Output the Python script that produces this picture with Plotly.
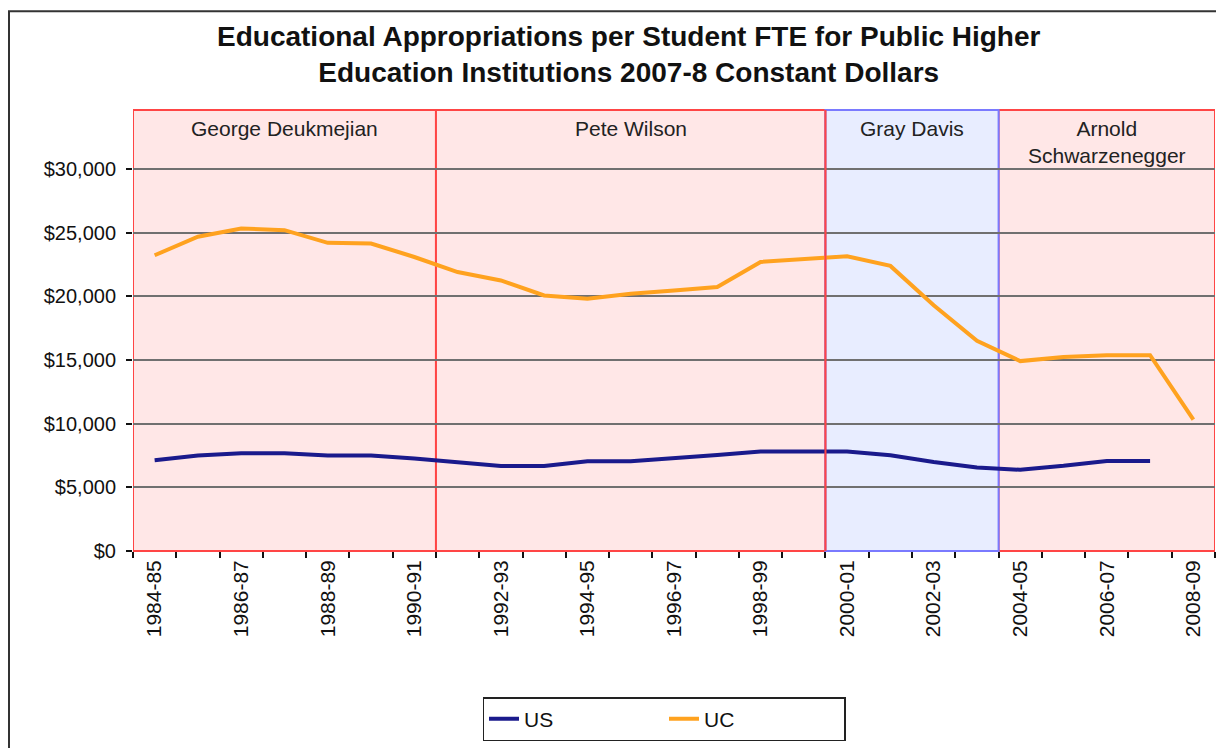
import plotly.graph_objects as go

# ---------------- data ----------------
years = ["1984-85", "1985-86", "1986-87", "1987-88", "1988-89", "1989-90", "1990-91",
         "1991-92", "1992-93", "1993-94", "1994-95", "1995-96", "1996-97", "1997-98",
         "1998-99", "1999-00", "2000-01", "2001-02", "2002-03", "2003-04", "2004-05",
         "2005-06", "2006-07", "2007-08", "2008-09"]
us_values = [7130, 7500, 7690, 7690, 7510, 7510, 7260, 6970, 6670, 6670, 7050, 7050,
             7330, 7550, 7810, 7810, 7810, 7530, 7000, 6560, 6380, 6690, 7080, 7080, None]
uc_values = [23240, 24690, 25340, 25210, 24210, 24160, 23100, 21920, 21260, 20080, 19820,
             20210, 20470, 20740, 22710, 22900, 23150, 22400, 19310, 16520, 14920, 15250,
             15380, 15380, 10320]
governors = ["George Deukmejian", "Pete Wilson", "Gray Davis", "Arnold<br>Schwarzenegger"]
gov_first = ["1984-85", "1991-92", "2000-01", "2004-05"]
gov_last = ["1990-91", "1999-00", "2003-04", "2008-09"]
gov_party = ["R", "R", "D", "R"]
y_tick_values = [0, 5000, 10000, 15000, 20000, 25000, 30000]
y_tick_text = ["$" + format(v, ",d") for v in y_tick_values]
title_text = ("<b>Educational Appropriations per Student FTE for Public Higher<br>"
              "Education Institutions 2007-8 Constant Dollars</b>")

# ---------------- styling ----------------
OFF = 8                       # page body margin of the html page
W, H = 1224 - OFF, 748 - OFF
ML, MT = 133 - OFF, 110 - OFF
PW, PH = 1082, 442
MR = W - ML - PW
MB = H - MT - PH
FONT = "Liberation Sans, Arial, sans-serif"
fill = {"R": "#ffe7e7", "D": "#e8edff"}
edge = {"R": "#ff4545", "D": "#7a7aff"}

def px_x(sx):
    return (sx - OFF - ML) / PW

def px_y(sy):
    return (MT + PH - (sy - OFF)) / PH

idx = {y: i for i, y in enumerate(years)}
xs = list(range(len(years)))

fig = go.Figure()
fig.add_trace(go.Scatter(x=xs, y=us_values, mode="lines", name="US",
                         line=dict(color="#1a1a8c", width=4)))
fig.add_trace(go.Scatter(x=xs, y=uc_values, mode="lines", name="UC",
                         line=dict(color="#ffa21f", width=4)))

shapes = []
annotations = []
for k in [0, 1, 3, 2]:
    x0 = idx[gov_first[k]] - 0.5
    x1 = idx[gov_last[k]] + 0.5
    p = gov_party[k]
    shapes.append(dict(type="rect", xref="x", yref="paper", x0=x0, x1=x1, y0=0, y1=1,
                       fillcolor=fill[p], line=dict(color=edge[p], width=2), layer="below"))
shapes.append(dict(type="line", xref="x", yref="paper",
                   x0=idx[gov_last[1]] + 0.5, x1=idx[gov_last[1]] + 0.5, y0=0, y1=1,
                   line=dict(color=edge["R"], width=2), layer="above"))
for k in range(len(governors)):
    xc = (idx[gov_first[k]] + idx[gov_last[k]]) / 2
    annotations.append(dict(x=xc, xref="x", y=px_y(115), yref="paper", yanchor="top",
                            text=governors[k], showarrow=False,
                            font=dict(family=FONT, size=21, color="#222222")))

# title
annotations.append(dict(x=px_x(629), xref="paper", y=px_y(54), yref="paper",
                        xanchor="center", yanchor="middle", text=title_text, showarrow=False,
                        font=dict(family=FONT, size=28, color="#111111")))

# outer chart frame
shapes.append(dict(type="rect", xref="paper", yref="paper",
                   x0=px_x(9), x1=px_x(1260), y0=px_y(11), y1=px_y(800),
                   line=dict(color="#333333", width=2), fillcolor="rgba(0,0,0,0)", layer="below"))

fig.update_layout(
    width=W, height=H,
    margin=dict(l=ML, r=MR, t=MT, b=MB, pad=0),
    paper_bgcolor="white", plot_bgcolor="white",
    font=dict(family=FONT, color="#111111"),
    shapes=shapes, annotations=annotations,
    showlegend=True,
    legend=dict(orientation="h", x=px_x(664), y=px_y(719), xanchor="center", yanchor="middle",
                bordercolor="#222222", borderwidth=1.5, bgcolor="white",
                font=dict(family=FONT, size=21, color="#111111"),
                entrywidth=135, entrywidthmode="pixels"),
)
fig.update_xaxes(
    range=[-0.5, len(years) - 0.5], tickmode="array",
    tickvals=xs[::2], ticktext=years[::2], tickangle=-90,
    ticks="", showgrid=False, zeroline=False, showline=False,
    ticklabelstandoff=4,
    tickfont=dict(family=FONT, size=21, color="#111111"),
    minor=dict(ticks="outside", tick0=-0.5, dtick=1, ticklen=6, tickcolor="#111111",
               tickwidth=2, showgrid=False),
)
fig.update_yaxes(
    range=[0, 34650], tickmode="array", tickvals=y_tick_values, ticktext=y_tick_text,
    ticks="outside", ticklen=6, tickcolor="#111111", ticklabelstandoff=6,
    tickwidth=2, showgrid=True, gridcolor="#707070", gridwidth=2, zeroline=False,
    showline=False, tickfont=dict(family=FONT, size=20, color="#111111"),
)
fig.write_html("out.html")
